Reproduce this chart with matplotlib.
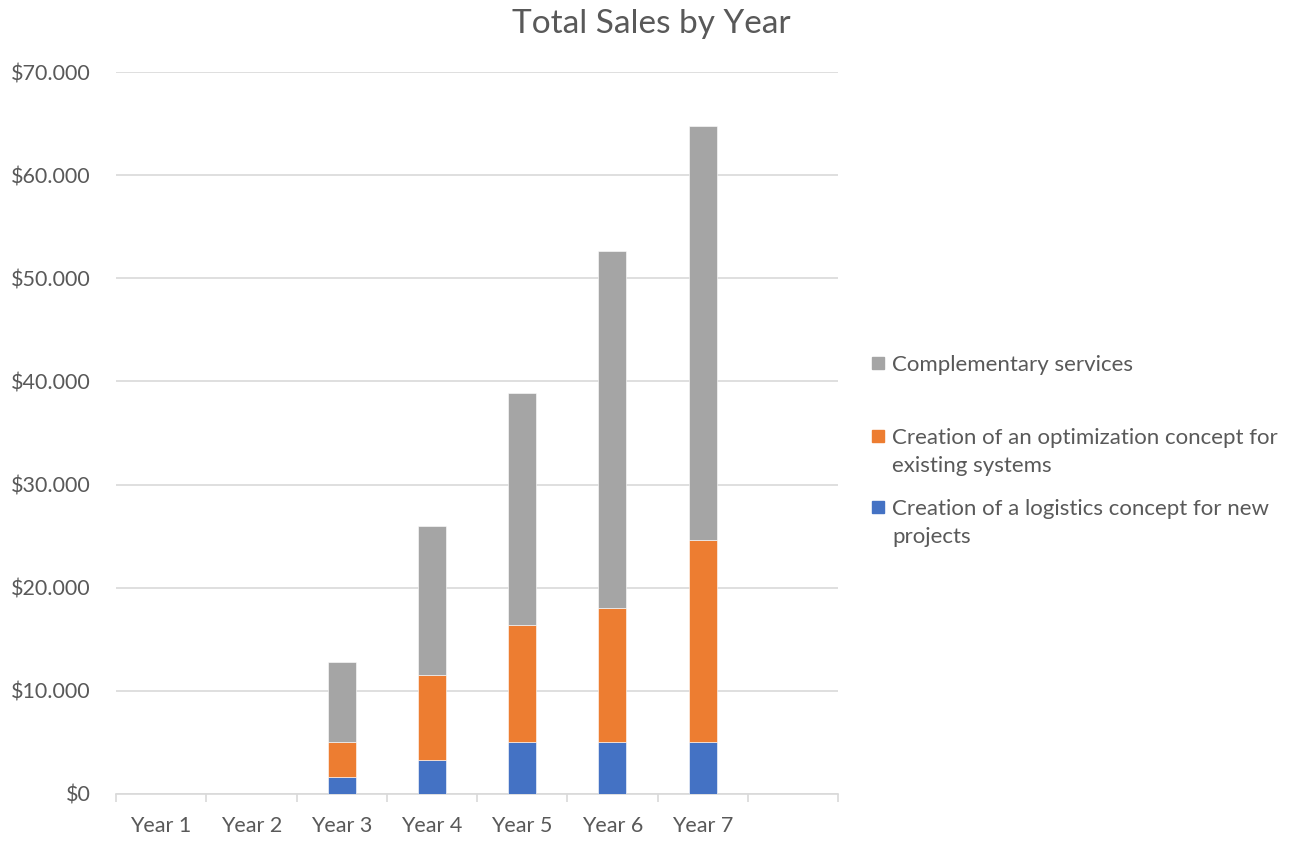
import matplotlib.pyplot as plt
from matplotlib.patches import Rectangle
from matplotlib.ticker import FuncFormatter, MultipleLocator
import numpy as np

# values (per segment, stacked bottom to top)
years = ["Year 1", "Year 2", "Year 3", "Year 4", "Year 5", "Year 6", "Year 7"]
logistics = [0, 0, 1600, 3300, 5000, 5000, 5000]
optimization = [0, 0, 3400, 8200, 11400, 13000, 19600]
complementary = [0, 0, 7800, 14500, 22500, 34600, 40200]

series_names = [
    "Creation of a logistics concept for new\nprojects",
    "Creation of an optimization concept for\nexisting systems",
    "Complementary services",
]
colors = ["#4472C4", "#ED7D31", "#A5A5A5"]

TEXT = "#595959"
plt.rcParams["font.family"] = ["Lato", "DejaVu Sans"]

fig = plt.figure(figsize=(13.03, 8.43), dpi=100)
ax = fig.add_axes([116 / 1303, 1 - 794 / 843, (838 - 116) / 1303, (794 - 72) / 843])

x = np.arange(len(years))
bottom = np.zeros(len(years))
for vals, col in zip([logistics, optimization, complementary], colors):
    vals = np.array(vals)
    ax.bar(x, vals, width=0.31, bottom=bottom, color=col,
           edgecolor="white", linewidth=0.4, zorder=3)
    bottom += vals

ax.set_xlim(-0.5, 7.5)
ax.set_ylim(0, 70000)
ax.yaxis.set_major_locator(MultipleLocator(10000))
ax.yaxis.set_major_formatter(FuncFormatter(
    lambda v, p: "$0" if v == 0 else "${:,.0f}".format(v).replace(",", ".")))
ax.grid(axis="y", color="#D9D9D9", linewidth=1.2, zorder=0)

ax.set_xticks(x)
ax.set_xticklabels(years)
ax.set_xticks(np.arange(-0.5, 8.0, 1.0), minor=True)
ax.tick_params(axis="x", which="major", length=0, pad=16, labelsize=15.5, labelcolor=TEXT)
ax.tick_params(axis="x", which="minor", length=6, color="#D9D9D9", width=1.2)
ax.tick_params(axis="y", length=0, pad=18.5, labelsize=15.5, labelcolor=TEXT)

for s in ["top", "right", "left"]:
    ax.spines[s].set_visible(False)
ax.spines["bottom"].set_color("#D9D9D9")
ax.spines["bottom"].set_linewidth(1.2)

fig.suptitle("Total Sales by Year", x=0.5, y=1 - 24 / 843, va="center",
             fontsize=24, color=TEXT)

# legend drawn by hand so the spacing follows the reference
legend_rows = [(363, 2), (436, 1), (507, 0)]
for ypix, i in legend_rows:
    fig.add_artist(Rectangle((872 / 1303, 1 - (ypix + 6) / 843), 12 / 1303, 12 / 843,
                             transform=fig.transFigure, color=colors[i]))
    fig.text(892 / 1303, 1 - (ypix - 8) / 843, series_names[i], va="top", ha="left",
             fontsize=16, color=TEXT, linespacing=1.5)

fig.savefig("out.png", dpi=100)
